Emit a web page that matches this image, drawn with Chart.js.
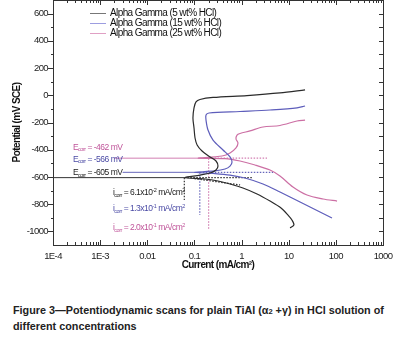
<!DOCTYPE html>
<html><head><meta charset="utf-8">
<script src="https://cdn.jsdelivr.net/npm/chart.js@4.4.1/dist/chart.umd.min.js"></script>
<style>
html,body{margin:0;padding:0;background:#fff;}
#wrap{position:relative;width:395px;height:280px;}
#cap{font-family:"Liberation Sans",Arial,sans-serif;font-weight:bold;font-size:10.8px;line-height:14px;color:#222;margin:23px 0 0 13px;width:382px;white-space:nowrap;}
</style></head><body>
<div id="wrap"><canvas id="c" width="395" height="280"></canvas></div>
<div id="cap">Figure 3—Potentiodynamic scans for plain TiAl (α<span style="font-size:7.5px">2</span> +γ) in HCl solution of<br>different concentrations</div>
<script>
const xTickValues=[1e-4,1e-3,0.01,0.1,1,10,100,1000];
const xTickLabels=['1E-4','1E-3','0.01','0.1','1','10','100','1000'];
const yTickValues=[-1000,-800,-600,-400,-200,0,200,400,600];
const seriesNames=['Alpha Gamma (5 wt% HCl)','Alpha Gamma (15 wt% HCl)','Alpha Gamma (25 wt% HCl)'];

// 5 wt% HCl
const cur5=[10.7,12.9,11.7,9.66,6.87,4.01,2.13,1.07,0.569,0.316,0.168,0.063,0.131,0.214,0.287,0.316,0.287,0.214,0.145,0.114,0.103,0.098,0.093,0.098,0.108,0.131,0.248,1.30,6.53,22.2];
const pot5=[-975,-953,-916,-880,-828,-777,-725,-681,-652,-630,-615,-605,-586,-571,-549,-520,-483,-453,-409,-365,-314,-240,-167,-93,-49,-31,-16,-2,17,39];
// 15 wt% HCl
const cur15=[82.8,46.1,17.4,6.53,2.85,1.18,0.569,0.273,0.10,0.273,0.446,0.569,0.627,0.569,0.404,0.248,0.194,0.176,0.176,0.204,0.927,4.01,15.0,22.2];
const pot15=[-902,-858,-784,-711,-652,-608,-586,-575,-566,-556,-542,-520,-490,-453,-402,-329,-255,-182,-145,-130,-119,-108,-93,-79];
// 25 wt% HCl
const cur25=[106,53.5,24.4,12.3,6.53,4.01,1.93,0.927,0.446,0.12,0.385,0.569,0.762,0.839,0.762,0.80,0.927,1.51,2.85,6.53,15.0,22.2];
const pot25=[-777,-762,-733,-674,-593,-549,-512,-483,-465,-462,-446,-424,-387,-351,-321,-292,-281,-262,-233,-222,-189,-182];

const ecorr=[-605,-566,-462];          // mV
const icorr=[0.061,0.13,0.2];          // mA/cm2
const ecorrLineStart=[1e-4,0.003,0.002];
const ecorrLineEnd=[1.75,4.64,3.47];
const icorrLineBottom=[-769,-880,-985];
const tafelCur=[0.1,0.93];
const tafelPot=[-612,-659];

const curveColors=['#2b2b2b','#5d5dbb','#cc6fa4'];
const legendColors=['#777777','#9d9de0','#e0a0c4'];
const dotColors=['#333333','#6666bb','#d27fb2'];
const textColors=['#222222','#4b4ba5','#c0559a'];
const F='"Liberation Sans",Arial,sans-serif';
const LS='-0.6px';

const zip=(xs,ys)=>xs.map((v,i)=>({x:v,y:ys[i]}));
const curves=[[cur5,pot5],[cur15,pot15],[cur25,pot25]];
const datasets=[];
curves.forEach((c,i)=>{
  datasets.push({label:seriesNames[i],data:zip(c[0],c[1]),showLine:true,pointRadius:0,borderWidth:1.2,borderColor:curveColors[i],tension:0.3,fill:false});
});
for(let i=0;i<3;i++){
  datasets.push({data:[{x:ecorrLineStart[i],y:ecorr[i]},{x:icorr[i],y:ecorr[i]}],showLine:true,pointRadius:0,borderWidth:1,borderColor:dotColors[i]});
  datasets.push({data:[{x:icorr[i],y:ecorr[i]},{x:ecorrLineEnd[i],y:ecorr[i]}],showLine:true,pointRadius:0,borderWidth:1.2,borderDash:[1.5,1.5],borderColor:dotColors[i]});
  datasets.push({data:[{x:icorr[i],y:ecorr[i]},{x:icorr[i],y:icorrLineBottom[i]}],showLine:true,pointRadius:0,borderWidth:1.2,borderDash:[1.5,1.5],borderColor:dotColors[i]});
}
datasets.push({data:zip(tafelCur,tafelPot),showLine:true,pointRadius:0,borderWidth:1.3,borderDash:[1.5,1.5],borderColor:dotColors[0]});

function rich(ctx,x,y,parts,color){
  ctx.fillStyle=color;ctx.textBaseline='middle';ctx.textAlign='left';
  for(const p of parts){
    ctx.font=(p.s||8.5)+'px '+F;
    ctx.fillText(p.t,x,y+(p.dy||0));
    x+=ctx.measureText(p.t).width;
  }
}
function sci(v){
  const e=Math.floor(Math.log10(v));
  return {m:(v/Math.pow(10,e)).toFixed(1),e:String(e)};
}
const zeroPad=()=>({left:0,top:0,right:0,bottom:0});

const spacing={id:'spacing',
  beforeLayout(c){c.ctx.letterSpacing=LS;},
  beforeDraw(c){c.ctx.letterSpacing=LS;}
};

const decor={id:'decor',afterDraw(chart){
  const {ctx,chartArea:a,scales:{x,y}}=chart;
  ctx.save();
  ctx.strokeStyle='#333';ctx.lineWidth=1;
  const L=Math.round(a.left),R=Math.round(a.right),T=Math.round(a.top),B=Math.round(a.bottom);
  ctx.strokeRect(L+0.5,T+0.5,R-L,B-T);
  ctx.beginPath();
  for(let d=-4;d<=3;d++){
    for(let m=1;m<=9;m++){
      const v=m*Math.pow(10,d); if(v>1000.01)break;
      const px=Math.round(x.getPixelForValue(v))+0.5;
      const len=m===1?5:3;
      ctx.moveTo(px,B);ctx.lineTo(px,B-len);
      ctx.moveTo(px,T);ctx.lineTo(px,T+len);
    }
  }
  for(let v=-1000;v<=600;v+=100){
    const py=Math.round(y.getPixelForValue(v))+0.5;
    const maj=v%200===0;
    ctx.moveTo(L,py);ctx.lineTo(L-(maj?5:2),py);
    ctx.moveTo(R,py);ctx.lineTo(R-4,py);
  }
  ctx.stroke();
  ctx.letterSpacing=LS;
  // legend
  for(let i=0;i<3;i++){
    const ly=T+13.5+i*10;
    ctx.strokeStyle=legendColors[i];ctx.lineWidth=1;
    ctx.beginPath();ctx.moveTo(L+37,ly);ctx.lineTo(L+53,ly);ctx.stroke();
    ctx.fillStyle='#111';ctx.font='10px '+F;ctx.textBaseline='middle';ctx.textAlign='left';
    ctx.fillText(seriesNames[i],L+57,ly);
  }
  ctx.letterSpacing='-0.5px';
  // Ecorr labels
  const eLabX=x.getPixelForValue(2.65e-4);
  const eLabY=[-571,-472,-387];
  for(let i=0;i<3;i++){
    rich(ctx,eLabX,y.getPixelForValue(eLabY[i]),[{t:'E',s:8.5},{t:'corr',s:5.5,dy:2},{t:' = '+ecorr[i]+' mV',s:8.5}],textColors[i]);
  }
  // icorr labels
  const iLabX=x.getPixelForValue(1.87e-3);
  const iLabY=[-718,-836,-975];
  for(let i=0;i<3;i++){
    const s=sci(icorr[i]);
    rich(ctx,iLabX,y.getPixelForValue(iLabY[i]),[{t:'i',s:8.5},{t:'corr',s:5.5,dy:2},{t:' = '+s.m+'x10',s:8.5},{t:s.e,s:5.5,dy:-3},{t:' mA/cm',s:8.5},{t:'2',s:5.5,dy:-3}],textColors[i]);
  }
  ctx.restore();
}};

new Chart(document.getElementById('c'),{
  type:'scatter',
  data:{datasets},
  options:{
    responsive:false,animation:false,
    layout:{padding:{top:0,right:12,left:0,bottom:0}},
    plugins:{legend:{display:false},tooltip:{enabled:false}},
    scales:{
      x:{type:'logarithmic',min:1e-4,max:1000,
        afterBuildTicks:s=>{s.ticks=xTickValues.map(v=>({value:v}));},
        afterFit:s=>{s.height=35;s.paddingRight=0;s.paddingLeft=0;s.getPadding=zeroPad;},
        grid:{display:false,drawTicks:false},border:{display:false},
        ticks:{padding:6,color:'#222',font:{family:F,size:9.5},maxRotation:0,minRotation:0,autoSkip:false,
          callback:(v,i)=>xTickLabels[i]},
        title:{display:true,text:'Current (mA/cm²)',color:'#111',font:{family:F,size:10,weight:'bold'},padding:{top:0,bottom:9}}
      },
      y:{min:-1100,max:700,
        afterBuildTicks:s=>{s.ticks=yTickValues.map(v=>({value:v}));},
        afterFit:s=>{s.width=53;s.paddingTop=0;s.paddingBottom=0;s.getPadding=zeroPad;},
        grid:{display:false,drawTicks:false},border:{display:false},
        ticks:{padding:5,color:'#222',font:{family:F,size:9.5},callback:v=>String(v)},
        title:{display:true,text:'Potential (mV SCE)',color:'#111',font:{family:F,size:10,weight:'bold'},padding:{top:11,bottom:0}}
      }
    }
  },
  plugins:[spacing,decor]
});
</script>
</body></html>
